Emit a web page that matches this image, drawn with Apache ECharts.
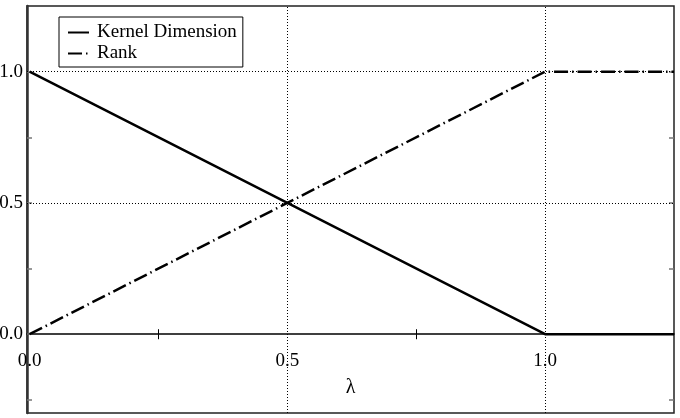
<!DOCTYPE html>
<html>
<head>
<meta charset="utf-8">
<script src="https://cdn.jsdelivr.net/npm/echarts@6/dist/echarts.min.js"></script>
<style>
	html, body { margin: 0; padding: 0; background: #fff; }
	#chart { width: 680px; height: 418px; }
</style>
</head>
<body>
<div id="chart"></div>
<script>
	// data
	var lambdaValues = [0, 1, 1.25];
	var kernelDimension = [1, 0, 0];
	var rankValues = [0, 1, 1];

	var xLabelValues = [0, 0.5, 1];
	var xTickValues = [0.25, 0.75];
	var yLabelValues = [0, 0.5, 1];
	var yTickValues = [-0.25, 0, 0.25, 0.5, 0.75, 1];
	var gridXValues = [0.5, 1];
	var gridYValues = [0.5, 1];

	var FONT = "Liberation Serif";

	var Y_MIN = -0.3, Y_MAX = 1.25;
	var GRID_TOP = 6, GRID_BOTTOM = 5, CHART_H = 418;

	function pairs(xs, ys)
	{
		var re = [];
		for(var i=0; i<xs.length; i++)
			re.push([xs[i], ys[i]]);
		return re;
	}

	function fmt(v)
	{
		return Number(v).toFixed(1);
	}

	var gridMarks = [];
	for(var i=0; i<gridXValues.length; i++)
		gridMarks.push({ xAxis: gridXValues[i] });
	for(var i=0; i<gridYValues.length; i++)
		gridMarks.push({ yAxis: gridYValues[i] });

	// the x axis sits on y = 0, lifted up from the bottom of the grid
	var gridH = CHART_H - GRID_TOP - GRID_BOTTOM;
	var zeroOffset = -gridH * (0 - Y_MIN) / (Y_MAX - Y_MIN);

	var chart = echarts.init(document.getElementById("chart"));

	chart.setOption({
		animation: false,
		textStyle: { fontFamily: FONT },
		grid: {
			left: 27, right: 6, top: GRID_TOP, bottom: GRID_BOTTOM,
			outerBoundsMode: "none",
			containLabel: false,
			show: true,
			borderColor: "#222",
			borderWidth: 1.5
		},
		legend: {
			orient: "vertical",
			left: 59,
			top: 17,
			padding: [6, 6, 4, 8],
			itemWidth: 21,
			itemHeight: 14,
			itemGap: 2,
			borderColor: "#000",
			borderWidth: 1,
			backgroundColor: "#fff",
			itemStyle: { opacity: 0 },
			textStyle: { fontFamily: FONT, fontSize: 19, color: "#000", padding: [0, 0, 0, 3] },
			data: ["Kernel Dimension", "Rank"]
		},
		xAxis: [
			{
				type: "value",
				min: -0.005,
				max: 1.25,
				position: "bottom",
				offset: zeroOffset,
				name: "λ",
				nameLocation: "middle",
				nameGap: 44,
				nameTextStyle: { fontFamily: FONT, fontSize: 20, color: "#000" },
				axisLine: { onZero: false, lineStyle: { color: "#000", width: 1.5 } },
				axisTick: { show: true, customValues: xTickValues, length: 5, lineStyle: { color: "#000" } },
				axisLabel: { customValues: xLabelValues, formatter: fmt, margin: 17, fontFamily: FONT, fontSize: 19, color: "#000" },
				splitLine: { show: false }
			},
			{
				type: "value",
				min: -0.005,
				max: 1.25,
				position: "bottom",
				offset: zeroOffset,
				axisLine: { show: false, onZero: false },
				axisTick: { show: true, inside: true, customValues: xTickValues, length: 5, lineStyle: { color: "#000" } },
				axisLabel: { show: false },
				splitLine: { show: false }
			}
		],
		yAxis: [
			{
				type: "value",
				min: Y_MIN,
				max: Y_MAX,
				position: "left",
				axisLine: { show: true, onZero: false, lineStyle: { color: "#333", width: 2.5 } },
				axisTick: { show: true, inside: true, customValues: yTickValues, length: 5, lineStyle: { color: "#777", width: 1.5 } },
				axisLabel: { customValues: yLabelValues, formatter: fmt, margin: 4, fontFamily: FONT, fontSize: 19, color: "#000" },
				splitLine: { show: false }
			},
			{
				type: "value",
				min: Y_MIN,
				max: Y_MAX,
				position: "right",
				axisLine: { show: false, onZero: false },
				axisTick: { show: true, inside: true, customValues: yTickValues, length: 5, lineStyle: { color: "#777", width: 1.5 } },
				axisLabel: { show: false },
				splitLine: { show: false }
			}
		],
		series: [
			{
				name: "Kernel Dimension",
				type: "line",
				symbol: "none",
				data: pairs(lambdaValues, kernelDimension),
				lineStyle: { color: "#000", width: 2.5 },
				itemStyle: { color: "#000" },
				z: 3,
				markLine: {
					silent: true,
					symbol: "none",
					label: { show: false },
					lineStyle: { color: "#000", type: [1, 2], width: 1 },
					data: gridMarks,
					z: 1
				}
			},
			{
				name: "Rank",
				type: "line",
				symbol: "none",
				data: pairs(lambdaValues, rankValues),
				lineStyle: { color: "#000", width: 2.5, type: [14, 4, 1.5, 4] },
				itemStyle: { color: "#000" },
				z: 3
			}
		]
	});
</script>
</body>
</html>
